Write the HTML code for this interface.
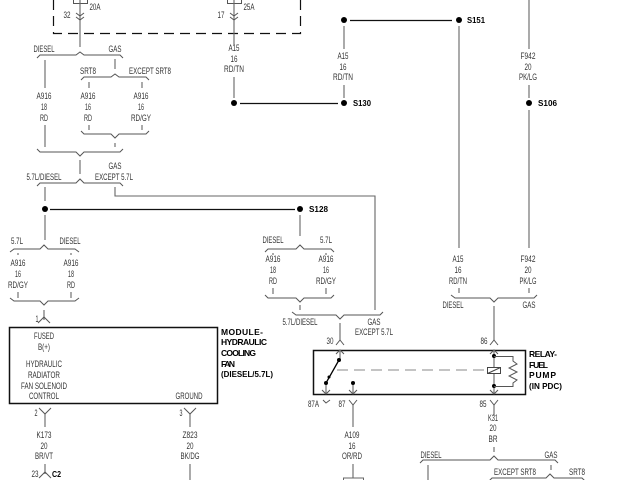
<!DOCTYPE html>
<html><head><meta charset="utf-8"><style>
html,body{margin:0;padding:0;background:#fff}
svg{display:block}
text{font-family:"Liberation Sans",sans-serif;font-size:8.800px;fill:#333;text-anchor:middle}
text.b{font-weight:bold;fill:#000;text-anchor:start;font-size:8.500px}
.w{fill:none;stroke:#666;stroke-width:1.100}
.n{fill:none;stroke:#555;stroke-width:1}
.k{fill:none;stroke:#111;stroke-width:1.200}
.d{fill:#000}
</style></head><body>
<svg width="640" height="480" viewBox="0 0 640 480" xmlns="http://www.w3.org/2000/svg">
<path d="M53.500 0V33.500H300.500V0" fill="none" stroke="#111" stroke-width="1.200" stroke-dasharray="10 6"/>
<path class="n" d="M73.500 0V3.500H87.500V0M227.500 0V3.500H241.500V0"/>
<path class="w" d="M80 0V47M234 0V45M234 77V98M344 26V49M344 85V98M459 26V248M529 0V49M529 85V98M529 110V248"/>
<path class="n" d="M76 13l4 3 4-3M76 17l4 3 4-3M230 13l4 3 4-3M230 17l4 3 4-3"/>
<path class="k" d="M240 103.500H338M350 20.500H452M50 209.500H295"/>
<circle class="d" cx="234" cy="103" r="3"/><circle class="d" cx="344" cy="20" r="3"/><circle class="d" cx="459" cy="20" r="3"/><circle class="d" cx="344" cy="103" r="3"/><circle class="d" cx="529" cy="103" r="3"/><circle class="d" cx="45" cy="209" r="3"/><circle class="d" cx="300" cy="209" r="3"/>
<path class="n" d="M37 58l3-3H76l4-3 4 3H120l3 3M81 80l3-3H111l4-3 4 3H146l3 3M81 131l3 3H111l4 4 4-4H146l3-3M37 149l3 3H76l4 4 4-4H120l3-3M37 186l3-3H76l4-4 4 4H120l3 3"/>
<path class="w" d="M45 60V88M115 59V69M89 82V88M142 82V88M89 125V130M142 125V130M45 125V147M115 143V147M80 160V174M45 187V201M115 187V196H375V310M45 215V240M300 215V236"/>
<path class="n" d="M10 252l4-3H40l4-4 4 4H75l4 3M10 298l4 3H40l4 4 4-4H75l4-3M265 252l3-3H296l4-4 4 4H331l3 3M265 295l3 3H296l4 4 4-4H331l3-3M292 312l4 3H336l4 4 4-4H380l3-3M451 295l4 3H490l4 4 4-4H534l3-3M420 463l3-3H490l4-4 4 4H555l3 3M488 482l4-4H546l4-4 4 4H582l3 3"/>
<path class="w" d="M18 253V255M71 253V255M18 292V298M71 292V298M44 310V320M273 253V255M326 253V255M273 288V294M326 288V294M300 305V310M340 323V340M459 288V293M529 288V293M494 306V340M45 414V427M190 414V427M45 464V474M190 464V480M353 405V427M353 464V478M494 405V416M494 447V452M428 465V480M551 465V470"/>
<rect x="9.500" y="327.500" width="208" height="76" fill="none" stroke="#111" stroke-width="1.500"/>
<rect x="313.500" y="350.500" width="212" height="44" fill="none" stroke="#111" stroke-width="1.500"/>
<path class="n" d="M38 323l6-6 6 6M39 408l6 6 6-6M184 408l6 6 6-6M39 478l6-6 6 6M336 345l4-5 4 5M490 345l4-5 4 5M349 400l4 5 4-5M490 400l4 5 4-5M323 400l3 3 4-3M336 354l4-4 4 4M322 390l4 4 4-4M349 390l4 4 4-4M490 354l4-4 4 4M490 390l4 4 4-4"/>
<path class="w" d="M340 350V359M326 383V394M353 383V394M494 350V367M494 373V394"/>
<path d="M339 360L326 383" stroke="#000" stroke-width="1.300"/>
<circle class="d" cx="339" cy="360" r="2"/><circle class="d" cx="326" cy="383" r="2"/><circle class="d" cx="329" cy="377" r="1.500"/><circle class="d" cx="353" cy="383" r="2"/><circle class="d" cx="494" cy="356" r="2"/><circle class="d" cx="494" cy="386" r="2"/>
<path d="M337 370H487" fill="none" stroke="#888" stroke-width="1" stroke-dasharray="11 6"/>
<rect x="487.500" y="367.500" width="13" height="6" fill="#fff" stroke="#444"/>
<path d="M487.500 373.500L500.500 367.500" stroke="#444"/>
<path class="n" d="M494 356.500H513V361L517 364L509 368L517 372L509 376L517 380L513 383V386.500H494"/>
<rect x="343.500" y="478" width="20" height="4" fill="none" stroke="#666"/>
<text x="95" y="10" textLength="11" lengthAdjust="spacingAndGlyphs">20A</text><text x="67" y="18" textLength="7" lengthAdjust="spacingAndGlyphs">32</text>
<text x="249" y="10" textLength="11" lengthAdjust="spacingAndGlyphs">25A</text><text x="221" y="18" textLength="7" lengthAdjust="spacingAndGlyphs">17</text>
<text x="44" y="52" textLength="21" lengthAdjust="spacingAndGlyphs">DIESEL</text><text x="115" y="52" textLength="13" lengthAdjust="spacingAndGlyphs">GAS</text>
<text x="234" y="51" textLength="11" lengthAdjust="spacingAndGlyphs">A15</text><text x="234" y="62" textLength="7" lengthAdjust="spacingAndGlyphs">16</text><text x="234" y="72" textLength="20" lengthAdjust="spacingAndGlyphs">RD/TN</text>
<text x="343" y="59" textLength="11" lengthAdjust="spacingAndGlyphs">A15</text><text x="343" y="70" textLength="7" lengthAdjust="spacingAndGlyphs">16</text><text x="343" y="80" textLength="20" lengthAdjust="spacingAndGlyphs">RD/TN</text>
<text x="528" y="59" textLength="15" lengthAdjust="spacingAndGlyphs">F942</text><text x="528" y="70" textLength="7" lengthAdjust="spacingAndGlyphs">20</text><text x="528" y="80" textLength="18" lengthAdjust="spacingAndGlyphs">PK/LG</text>
<text x="88" y="74" textLength="16" lengthAdjust="spacingAndGlyphs">SRT8</text><text x="150" y="74" textLength="42" lengthAdjust="spacingAndGlyphs">EXCEPT SRT8</text>
<text x="44" y="99" textLength="15" lengthAdjust="spacingAndGlyphs">A916</text><text x="44" y="110" textLength="6" lengthAdjust="spacingAndGlyphs">18</text><text x="44" y="121" textLength="8" lengthAdjust="spacingAndGlyphs">RD</text>
<text x="88" y="99" textLength="15" lengthAdjust="spacingAndGlyphs">A916</text><text x="88" y="110" textLength="6" lengthAdjust="spacingAndGlyphs">16</text><text x="88" y="121" textLength="8" lengthAdjust="spacingAndGlyphs">RD</text>
<text x="141" y="99" textLength="15" lengthAdjust="spacingAndGlyphs">A916</text><text x="141" y="110" textLength="6" lengthAdjust="spacingAndGlyphs">16</text><text x="141" y="121" textLength="20" lengthAdjust="spacingAndGlyphs">RD/GY</text>
<text x="115" y="169" textLength="13" lengthAdjust="spacingAndGlyphs">GAS</text><text x="114" y="180" textLength="38" lengthAdjust="spacingAndGlyphs">EXCEPT 5.7L</text><text x="44" y="180" textLength="35" lengthAdjust="spacingAndGlyphs">5.7L/DIESEL</text>
<text x="17" y="244" textLength="12" lengthAdjust="spacingAndGlyphs">5.7L</text><text x="70" y="244" textLength="21" lengthAdjust="spacingAndGlyphs">DIESEL</text>
<text x="18" y="266" textLength="15" lengthAdjust="spacingAndGlyphs">A916</text><text x="18" y="277" textLength="6" lengthAdjust="spacingAndGlyphs">16</text><text x="18" y="288" textLength="20" lengthAdjust="spacingAndGlyphs">RD/GY</text>
<text x="71" y="266" textLength="15" lengthAdjust="spacingAndGlyphs">A916</text><text x="71" y="277" textLength="6" lengthAdjust="spacingAndGlyphs">18</text><text x="71" y="288" textLength="8" lengthAdjust="spacingAndGlyphs">RD</text>
<text x="273" y="243" textLength="21" lengthAdjust="spacingAndGlyphs">DIESEL</text><text x="326" y="243" textLength="12" lengthAdjust="spacingAndGlyphs">5.7L</text>
<text x="273" y="262" textLength="15" lengthAdjust="spacingAndGlyphs">A916</text><text x="273" y="273" textLength="6" lengthAdjust="spacingAndGlyphs">18</text><text x="273" y="284" textLength="8" lengthAdjust="spacingAndGlyphs">RD</text>
<text x="326" y="262" textLength="15" lengthAdjust="spacingAndGlyphs">A916</text><text x="326" y="273" textLength="6" lengthAdjust="spacingAndGlyphs">16</text><text x="326" y="284" textLength="20" lengthAdjust="spacingAndGlyphs">RD/GY</text>
<text x="458" y="262" textLength="11" lengthAdjust="spacingAndGlyphs">A15</text><text x="458" y="273" textLength="7" lengthAdjust="spacingAndGlyphs">16</text><text x="458" y="284" textLength="18" lengthAdjust="spacingAndGlyphs">RD/TN</text>
<text x="528" y="262" textLength="15" lengthAdjust="spacingAndGlyphs">F942</text><text x="528" y="273" textLength="7" lengthAdjust="spacingAndGlyphs">20</text><text x="528" y="284" textLength="17" lengthAdjust="spacingAndGlyphs">PK/LG</text>
<text x="453" y="308" textLength="21" lengthAdjust="spacingAndGlyphs">DIESEL</text><text x="529" y="308" textLength="13" lengthAdjust="spacingAndGlyphs">GAS</text>
<text x="300" y="325" textLength="35" lengthAdjust="spacingAndGlyphs">5.7L/DIESEL</text><text x="374" y="325" textLength="13" lengthAdjust="spacingAndGlyphs">GAS</text><text x="374" y="335" textLength="38" lengthAdjust="spacingAndGlyphs">EXCEPT 5.7L</text>
<text x="37" y="322" textLength="3" lengthAdjust="spacingAndGlyphs">1</text><text x="330" y="344" textLength="7" lengthAdjust="spacingAndGlyphs">30</text><text x="484" y="344" textLength="7" lengthAdjust="spacingAndGlyphs">86</text>
<text x="44" y="339" textLength="20" lengthAdjust="spacingAndGlyphs">FUSED</text><text x="44" y="350" textLength="12" lengthAdjust="spacingAndGlyphs">B(+)</text><text x="44" y="367" textLength="36" lengthAdjust="spacingAndGlyphs">HYDRAULIC</text><text x="44" y="378" textLength="32" lengthAdjust="spacingAndGlyphs">RADIATOR</text><text x="44" y="389" textLength="46" lengthAdjust="spacingAndGlyphs">FAN SOLENOID</text><text x="44" y="399" textLength="30" lengthAdjust="spacingAndGlyphs">CONTROL</text><text x="189" y="399" textLength="27" lengthAdjust="spacingAndGlyphs">GROUND</text>
<text x="36" y="416" textLength="3" lengthAdjust="spacingAndGlyphs">2</text><text x="181" y="416" textLength="3" lengthAdjust="spacingAndGlyphs">3</text>
<text x="44" y="438" textLength="15" lengthAdjust="spacingAndGlyphs">K173</text><text x="44" y="449" textLength="7" lengthAdjust="spacingAndGlyphs">20</text><text x="44" y="459" textLength="18" lengthAdjust="spacingAndGlyphs">BR/VT</text>
<text x="190" y="438" textLength="15" lengthAdjust="spacingAndGlyphs">Z823</text><text x="190" y="449" textLength="7" lengthAdjust="spacingAndGlyphs">20</text><text x="190" y="459" textLength="19" lengthAdjust="spacingAndGlyphs">BK/DG</text>
<text x="35" y="477" textLength="7" lengthAdjust="spacingAndGlyphs">23</text>
<text x="313.500" y="407" textLength="11" lengthAdjust="spacingAndGlyphs">87A</text><text x="342" y="407" textLength="7" lengthAdjust="spacingAndGlyphs">87</text><text x="483" y="407" textLength="7" lengthAdjust="spacingAndGlyphs">85</text>
<text x="352" y="438" textLength="15" lengthAdjust="spacingAndGlyphs">A109</text><text x="352" y="449" textLength="7" lengthAdjust="spacingAndGlyphs">16</text><text x="352" y="459" textLength="20" lengthAdjust="spacingAndGlyphs">OR/RD</text>
<text x="493" y="421" textLength="10" lengthAdjust="spacingAndGlyphs">K31</text><text x="493" y="431" textLength="7" lengthAdjust="spacingAndGlyphs">20</text><text x="493" y="442" textLength="9" lengthAdjust="spacingAndGlyphs">BR</text>
<text x="431" y="458" textLength="21" lengthAdjust="spacingAndGlyphs">DIESEL</text><text x="551" y="458" textLength="13" lengthAdjust="spacingAndGlyphs">GAS</text>
<text x="515" y="475" textLength="42" lengthAdjust="spacingAndGlyphs">EXCEPT SRT8</text><text x="577" y="475" textLength="16" lengthAdjust="spacingAndGlyphs">SRT8</text>
<text class="b" x="467" y="23" textLength="18" lengthAdjust="spacingAndGlyphs">S151</text><text class="b" x="353" y="106" textLength="18" lengthAdjust="spacingAndGlyphs">S130</text><text class="b" x="538" y="106" textLength="19" lengthAdjust="spacingAndGlyphs">S106</text><text class="b" x="309" y="212" textLength="19" lengthAdjust="spacingAndGlyphs">S128</text><text class="b" x="52" y="477" textLength="9" lengthAdjust="spacingAndGlyphs">C2</text>
<text class="b" x="221" y="335" textLength="42" lengthAdjust="spacing">MODULE-</text><text class="b" x="221" y="345" textLength="46" lengthAdjust="spacing">HYDRAULIC</text><text class="b" x="221" y="356" textLength="35" lengthAdjust="spacing">COOLING</text><text class="b" x="221" y="367" textLength="14" lengthAdjust="spacing">FAN</text><text class="b" x="221" y="377" textLength="52" lengthAdjust="spacingAndGlyphs">(DIESEL/5.7L)</text>
<text class="b" x="529" y="357" textLength="28" lengthAdjust="spacing">RELAY-</text><text class="b" x="529" y="368" textLength="19" lengthAdjust="spacing">FUEL</text><text class="b" x="529" y="378" textLength="27" lengthAdjust="spacing">PUMP</text><text class="b" x="529" y="389" textLength="33" lengthAdjust="spacingAndGlyphs">(IN PDC)</text>
</svg>
</body></html>
